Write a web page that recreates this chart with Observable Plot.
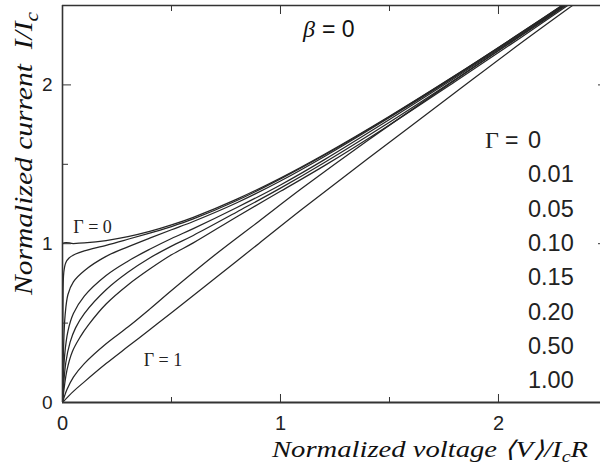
<!DOCTYPE html>
<html><head><meta charset="utf-8">
<script src="https://cdn.jsdelivr.net/npm/d3@7"></script>
<script src="https://cdn.jsdelivr.net/npm/@observablehq/plot@0.6"></script>
<style>
html,body{margin:0;padding:0;background:#fff;overflow:hidden}
#chart{width:600px;height:468px}
svg{display:block}
</style></head><body><div id="chart"></div>
<script>
// Noise parameter labels (legend list)
const gammaLabels = ["0", "0.01", "0.05", "0.10", "0.15", "0.20", "0.50", "1.00"];

// Normalized voltage <V>/IcR and normalized current I/Ic
const V_g000 = [0, 0, 0.05, 0.1, 0.2, 0.3, 0.4, 0.5, 0.6, 0.8, 1.0, 1.2, 1.5, 1.8, 2.1, 2.4, 2.5];
const I_g000 = [0, 1, 1.001, 1.005, 1.02, 1.044, 1.077, 1.118, 1.166, 1.281, 1.414, 1.562, 1.803, 2.059, 2.326, 2.6, 2.69];

const V_g001 = [0, 0.002, 0.006, 0.015, 0.03, 0.06, 0.1, 0.2, 0.3, 0.4, 0.5, 0.6, 0.8, 1.0, 1.2, 1.5, 1.8, 2.1, 2.4, 2.5];
const I_g001 = [0, 0.6, 0.82, 0.88, 0.91, 0.935, 0.955, 0.99, 1.028, 1.067, 1.108, 1.156, 1.272, 1.408, 1.557, 1.8, 2.057, 2.325, 2.599, 2.69];

const V_g005 = [0, 0.005, 0.012, 0.025, 0.05, 0.1, 0.2, 0.3, 0.4, 0.5, 0.6, 0.8, 1.0, 1.2, 1.5, 1.8, 2.1, 2.4, 2.5];
const I_g005 = [0, 0.35, 0.55, 0.68, 0.76, 0.83, 0.92, 0.98, 1.035, 1.088, 1.14, 1.258, 1.395, 1.548, 1.795, 2.052, 2.321, 2.596, 2.69];

const V_g010 = [0, 0.01, 0.025, 0.05, 0.1, 0.2, 0.3, 0.4, 0.5, 0.6, 0.8, 1.0, 1.2, 1.5, 1.8, 2.1, 2.4, 2.5];
const I_g010 = [0, 0.3, 0.45, 0.56, 0.67, 0.8, 0.89, 0.965, 1.033, 1.095, 1.228, 1.37, 1.528, 1.782, 2.044, 2.314, 2.591, 2.685];

const V_g015 = [0, 0.015, 0.035, 0.06, 0.1, 0.2, 0.3, 0.4, 0.5, 0.6, 0.8, 1.0, 1.2, 1.5, 1.8, 2.1, 2.4, 2.5];
const I_g015 = [0, 0.25, 0.38, 0.47, 0.56, 0.71, 0.82, 0.91, 0.985, 1.052, 1.2, 1.35, 1.51, 1.765, 2.033, 2.306, 2.585, 2.68];

const V_g020 = [0, 0.02, 0.045, 0.08, 0.12, 0.2, 0.3, 0.4, 0.5, 0.6, 0.8, 1.0, 1.2, 1.5, 1.8, 2.1, 2.4, 2.5];
const I_g020 = [0, 0.2, 0.32, 0.41, 0.49, 0.62, 0.74, 0.84, 0.93, 1.005, 1.17, 1.33, 1.49, 1.748, 2.02, 2.296, 2.578, 2.673];

const V_g050 = [0, 0.02, 0.05, 0.1, 0.2, 0.3, 0.4, 0.5, 0.7, 0.9, 1.1, 1.4, 1.8, 2.1, 2.4, 2.5];
const I_g050 = [0, 0.08, 0.16, 0.245, 0.37, 0.475, 0.588, 0.705, 0.93, 1.14, 1.35, 1.65, 2.03, 2.31, 2.59, 2.68];

const V_g100 = [0, 0.05, 0.1, 0.2, 0.3, 0.4, 0.5, 0.7, 0.9, 1.1, 1.4, 1.8, 2.1, 2.4, 2.5];
const I_g100 = [0, 0.07, 0.13, 0.245, 0.352, 0.458, 0.565, 0.783, 1.0, 1.218, 1.535, 1.95, 2.26, 2.56, 2.66];

// Axis ticks
const xMajor = [0, 1, 2];
const xMinor = [0.5, 1.5];
const yMajor = [0, 1, 2];
const yMinor = [0.5, 1.5];

// Curve annotations
const curveNotes = [
  {v: 0.138, i: 1.105, text: "Γ = 0"},
  {v: 0.461, i: 0.264, text: "Γ = 1"}
];

const series = [
  [gammaLabels[0], V_g000, I_g000],
  [gammaLabels[1], V_g001, I_g001],
  [gammaLabels[2], V_g005, I_g005],
  [gammaLabels[3], V_g010, I_g010],
  [gammaLabels[4], V_g015, I_g015],
  [gammaLabels[5], V_g020, I_g020],
  [gammaLabels[6], V_g050, I_g050],
  [gammaLabels[7], V_g100, I_g100]
];
const rows = series.flatMap(([g, V, I]) => V.map((v, k) => ({gamma: g, v, i: I[k]})));

const axisColor = "#333";
const plot = Plot.plot({
  width: 600, height: 468,
  marginLeft: 62, marginRight: 0, marginTop: 5, marginBottom: 66,
  x: {domain: [0, 2.468]},
  y: {domain: [0, 2.5]},
  style: {fontFamily: "'Liberation Sans', Arial, sans-serif", color: "#222", background: "white", overflow: "hidden"},
  marks: [
    Plot.line(rows, {x: "v", y: "i", z: "gamma", curve: "catmull-rom", stroke: "#262626", strokeWidth: 1.25, clip: true}),
    Plot.ruleX([0], {stroke: axisColor, strokeWidth: 1.6}),
    Plot.ruleY([0], {stroke: axisColor, strokeWidth: 1.8}),
    Plot.ruleY([2.5], {stroke: axisColor, strokeWidth: 1.4}),
    Plot.axisX({anchor: "bottom", ticks: xMajor, tickSize: -8, tickPadding: 21, fontSize: 20, tickFormat: d => String(d), stroke: axisColor, label: null}),
    Plot.axisX({anchor: "bottom", ticks: xMinor, tickSize: -5, tickFormat: () => "", stroke: axisColor, label: null}),
    Plot.axisX({anchor: "top", ticks: xMajor.slice(1), tickSize: -8, tickFormat: () => "", stroke: axisColor, label: null}),
    Plot.axisX({anchor: "top", ticks: xMinor, tickSize: -5, tickFormat: () => "", stroke: axisColor, label: null}),
    Plot.axisY({anchor: "left", ticks: yMajor, tickSize: -9, tickPadding: 19, fontSize: 19, tickFormat: d => String(d), stroke: axisColor, label: null}),
    Plot.axisY({anchor: "left", ticks: yMinor, tickSize: -6, tickFormat: () => "", stroke: axisColor, label: null}),
    Plot.axisY({anchor: "right", ticks: yMajor.slice(1), tickSize: -3, tickFormat: () => "", stroke: axisColor, label: null}),
    Plot.text(curveNotes, {x: "v", y: "i", text: "text", fontFamily: "'Liberation Serif', 'Times New Roman', serif", fontSize: 18, fill: "#222"})
  ]
});
document.getElementById("chart").appendChild(plot);

// Rich text (axis titles, beta label, legend list)
const svg = d3.select(plot);
const serifI = "'Liberation Serif', 'Times New Roman', serif";
const sans = "'Liberation Sans', Arial, sans-serif";

// x title
const xt = svg.append("text")
  .attr("x", 272).attr("y", 457).attr("text-anchor", "start")
  .attr("font-family", serifI).attr("font-style", "italic").attr("font-size", 23).attr("fill", "#111")
  .attr("textLength", 316).attr("lengthAdjust", "spacingAndGlyphs");
xt.append("tspan").text("Normalized voltage ⟨V⟩/I");
xt.append("tspan").attr("font-size", 16).attr("dy", 5).text("c");
xt.append("tspan").attr("dy", -5).text("R");

// y title
const yt = svg.append("text")
  .attr("transform", "translate(32,295) rotate(-90)").attr("text-anchor", "start")
  .attr("font-family", serifI).attr("font-style", "italic").attr("font-size", 25).attr("fill", "#111")
  .attr("textLength", 283).attr("lengthAdjust", "spacingAndGlyphs");
yt.append("tspan").text("Normalized current  I/I");
yt.append("tspan").attr("font-size", 18).attr("dy", 6).text("c");

// beta label
const bt = svg.append("text").attr("x", 303).attr("y", 37).attr("text-anchor", "start").attr("fill", "#111");
bt.append("tspan").attr("font-family", serifI).attr("font-style", "italic").attr("font-size", 24).text("β");
bt.append("tspan").attr("font-family", sans).attr("font-size", 23).attr("dx", 7).text("= 0");

// legend list
const legendY0 = 148, legendStep = 34.3;
const lg = svg.append("g").attr("fill", "#222").attr("text-anchor", "start");
gammaLabels.forEach((g, k) => {
  lg.append("text").attr("x", 528).attr("y", legendY0 + k * legendStep)
    .attr("font-family", sans).attr("font-size", 23.5).text(g);
});
const gt = lg.append("text").attr("x", 485).attr("y", legendY0);
gt.append("tspan").attr("font-family", serifI).attr("font-size", 24).text("Γ");
gt.append("tspan").attr("font-family", sans).attr("font-size", 23).attr("dx", 6).text("=");
</script>
</body></html>
